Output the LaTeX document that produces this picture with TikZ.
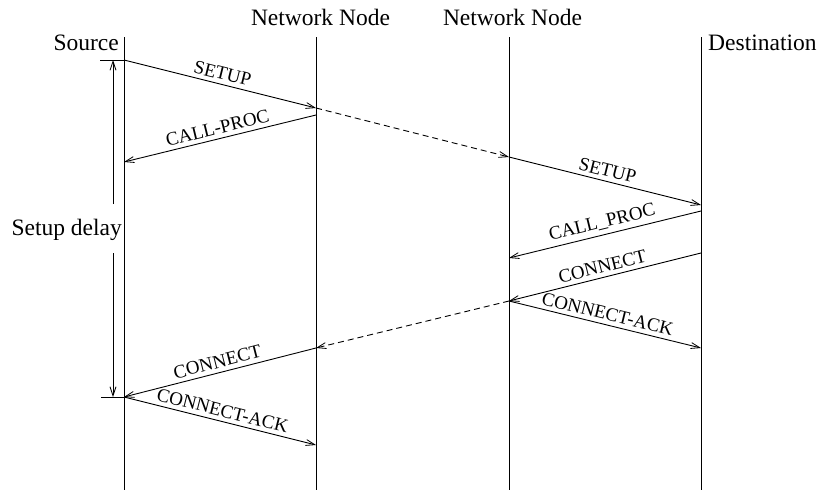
\documentclass[tikz,border=0pt]{standalone}
\usepackage{fontspec}
\setmainfont{Liberation Serif}
\newfontfamily\tmsfont{Liberation Serif}
\usetikzlibrary{arrows.meta}
\begin{document}
\begin{tikzpicture}[x=1pt,y=-1pt,
  lifeline/.style={line width=0.9pt},
  msg/.style={line width=0.9pt,-{Straight Barb[length=9pt,width=6pt,line width=0.8pt]}},
  fwd/.style={msg,dash pattern=on 6pt off 4pt},
  lbl/.style={sloped,above,inner sep=4pt,font=\tmsfont\fontsize{19}{22}\selectfont},
  head/.style={inner sep=0pt,font=\tmsfont\fontsize{23.5}{28}\selectfont},
  tick/.style={line width=0.9pt}]
\useasboundingbox (0,0) rectangle (819,490);
% lifelines
\coordinate (s0) at (124,37);  \coordinate (s1) at (124,490);
\coordinate (a0) at (316,37);  \coordinate (a1) at (316,490);
\coordinate (b0) at (509,37);  \coordinate (b1) at (509,490);
\coordinate (d0) at (701,37);  \coordinate (d1) at (701,490);
\draw[lifeline] (s0) -- (s1);
\draw[lifeline] (a0) -- (a1);
\draw[lifeline] (b0) -- (b1);
\draw[lifeline] (d0) -- (d1);
% headers
\node[head,anchor=base east] (hs) at (119,50) {Source};
\node[head,anchor=base] (ha) at (320.5,25) {Network Node};
\node[head,anchor=base] (hb) at (512.5,25) {Network Node};
\node[head,anchor=base west] (hd) at (708,50) {Destination};
% event points
\coordinate (s60) at (124,60);
\coordinate (a108) at (316,108);
\coordinate (a115) at (316,115);
\coordinate (s162) at (124,162);
\coordinate (b157) at (509,157);
\coordinate (d205) at (701,205);
\coordinate (d211) at (701,211);
\coordinate (b258) at (509,258);
\coordinate (d253) at (701,253);
\coordinate (b301) at (509,301);
\coordinate (d348) at (701,348);
\coordinate (a348) at (316,348);
\coordinate (s397) at (124,397);
\coordinate (a445) at (316,445);
% messages
\draw[msg] (s60) -- node[lbl] {SETUP} (a108);
\draw[msg] (a115) -- node[lbl] {CALL-PROC} (s162);
\draw[fwd] (a108) -- (b157);
\draw[msg] (b157) -- node[lbl] {SETUP} (d205);
\draw[msg] (d211) -- node[lbl] {CALL\_PROC} (b258);
\draw[msg] (d253) -- node[lbl] {CONNECT} (b301);
\draw[msg] (b301) -- node[lbl] {CONNECT-ACK} (d348);
\draw[fwd] (b301) -- (a348);
\draw[msg] (a348) -- node[lbl] {CONNECT} (s397);
\draw[msg] (s397) -- node[lbl] {CONNECT-ACK} (a445);
% setup delay
\coordinate (t0) at (100,60);
\coordinate (t1) at (101,397);
\draw[tick] (t0) -- (s60);
\draw[tick] (t1) -- (s397);
\node[head,anchor=base east] (sd) at (122,235) {Setup delay};
\coordinate (u0) at (113,204);
\coordinate (u1) at (113,60);
\coordinate (v0) at (113,253);
\coordinate (v1) at (113,397);
\draw[msg] (u0) -- (u1);
\draw[msg] (v0) -- (v1);
\end{tikzpicture}
\end{document}
